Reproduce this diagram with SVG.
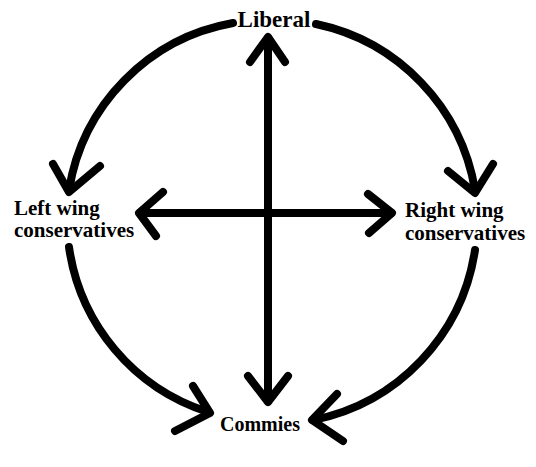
<svg xmlns="http://www.w3.org/2000/svg" width="536" height="467" viewBox="0 0 536 467">
<style>
.c{fill:none;stroke:#000;stroke-width:8;stroke-linecap:round;stroke-linejoin:round}
.t{font-family:"Liberation Serif","Times New Roman",serif;font-weight:bold;fill:#000}
</style>
<rect width="536" height="467" fill="#fff"/>
<g id="connectors">
<path class="c" d="M268 38 V401"/>
<polyline class="c" points="250,62 268,37 285,62"/>
<polyline class="c" points="248,376 268,402 288,376"/>
<path class="c" d="M140 213 H391"/>
<polyline class="c" points="163,192 139,213 156,236"/>
<polyline class="c" points="368,194 392,213 369,233"/>
<path class="c" d="M233 23 A202 202 0 0 0 69 190"/>
<polyline class="c" points="53,164 69,192 100,166"/>
<path class="c" d="M316 24 A204 204 0 0 1 475 190"/>
<polyline class="c" points="448,171 475,193 493,164"/>
<path class="c" d="M69 247 A203 203 0 0 0 208 412"/>
<polyline class="c" points="193,386 210,413 175,431"/>
<path class="c" d="M475 250 A204 204 0 0 1 313 420"/>
<polyline class="c" points="337,394 312,420 343,441"/>
</g>
<g id="liberal"><text class="t" x="274" y="27" font-size="23" text-anchor="middle">Liberal</text></g>
<g id="left"><text class="t" x="14" y="215" font-size="21">Left wing</text><text class="t" x="14" y="237" font-size="21">conservatives</text></g>
<g id="right"><text class="t" x="405" y="217" font-size="21">Right wing</text><text class="t" x="405" y="240" font-size="21">conservatives</text></g>
<g id="commies"><text class="t" x="260" y="431" font-size="20" text-anchor="middle">Commies</text></g>
</svg>
